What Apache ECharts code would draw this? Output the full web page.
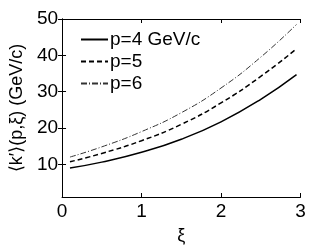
<!DOCTYPE html>
<html><head><meta charset="utf-8">
<script src="https://cdn.jsdelivr.net/npm/echarts@6/dist/echarts.min.js"></script>
<style>html,body{margin:0;padding:0;background:#fff}#c{width:332px;height:250px}</style>
</head><body><div id="c"></div>
<script>
var xi = [0.1, 0.5, 1.0, 1.5, 2.0, 2.5, 2.95];
var p4 = [9.0, 10.6, 13.3, 16.9, 21.7, 27.9, 34.7];
var p5 = [10.7, 13.0, 16.5, 21.0, 26.9, 34.2, 41.8];
var p6 = [12.0, 14.8, 19.0, 24.2, 31.0, 39.5, 48.5];
var names = ['p=4 GeV/c', 'p=5', 'p=6'];
var xTicks = [0, 1, 2, 3];
var yTicks = [10, 20, 30, 40, 50];

function pairs(ys){ return xi.map(function(x,i){return [x, ys[i]];}); }
var FONT = 'Liberation Sans';
var chart = echarts.init(document.getElementById('c'));
var axisLine = {show:true, lineStyle:{color:'#000', width:1}};
chart.setOption({
  animation:false,
  textStyle:{fontFamily:FONT},
  grid:{left:56, right:31.5, top:19, bottom:46.5},
  legend:{
    orient:'vertical', left:75, top:25, itemWidth:27, itemHeight:12, itemGap:3,
    itemStyle:{opacity:0},
    textStyle:{fontFamily:FONT, fontSize:19, color:'#000', padding:[0,0,0,-3]},
    data:names
  },
  xAxis:[{
    type:'value', min:0, max:3, interval:1,
    name:'ξ', nameLocation:'middle', nameGap:30,
    nameTextStyle:{fontFamily:FONT, fontSize:18, color:'#000'},
    axisLine:axisLine, splitLine:{show:false},
    axisTick:{show:true, inside:true, length:4, lineStyle:{color:'#000'}, customValues:xTicks},
    axisLabel:{fontSize:19, color:'#000', margin:5, customValues:xTicks}
  },{
    type:'value', min:0, max:3, interval:1, position:'top',
    axisLine:axisLine, splitLine:{show:false},
    axisTick:{show:true, inside:true, length:4, lineStyle:{color:'#000'}},
    axisLabel:{show:false}
  }],
  yAxis:[{
    type:'value', min:1, max:50,
    name:'⟨k′⟩(p,ξ) (GeV/c)', nameLocation:'middle', nameGap:31, nameRotate:90,
    nameTextStyle:{fontFamily:FONT, fontSize:18, color:'#000'},
    axisLine:axisLine, splitLine:{show:false},
    axisTick:{show:true, inside:true, length:4, lineStyle:{color:'#000'}, customValues:yTicks},
    axisLabel:{fontSize:19, color:'#000', margin:4, customValues:yTicks}
  },{
    type:'value', min:1, max:50, position:'right',
    axisLine:axisLine, splitLine:{show:false},
    axisTick:{show:true, inside:true, length:4, lineStyle:{color:'#000'}, customValues:yTicks},
    axisLabel:{show:false, customValues:yTicks}
  }],
  series:[
    {name:names[0], type:'line', smooth:true, symbol:'none', data:pairs(p4),
     lineStyle:{color:'#000', width:1.5, type:'solid'}, itemStyle:{color:'#000'}},
    {name:names[1], type:'line', smooth:true, symbol:'none', data:pairs(p5),
     lineStyle:{color:'#000', width:1.5, type:[5,3]}, itemStyle:{color:'#000'}},
    {name:names[2], type:'line', smooth:true, symbol:'none', data:pairs(p6),
     lineStyle:{color:'#333', width:1, type:[6,2,1,2]}, itemStyle:{color:'#333'}}
  ]
});
</script></body></html>
